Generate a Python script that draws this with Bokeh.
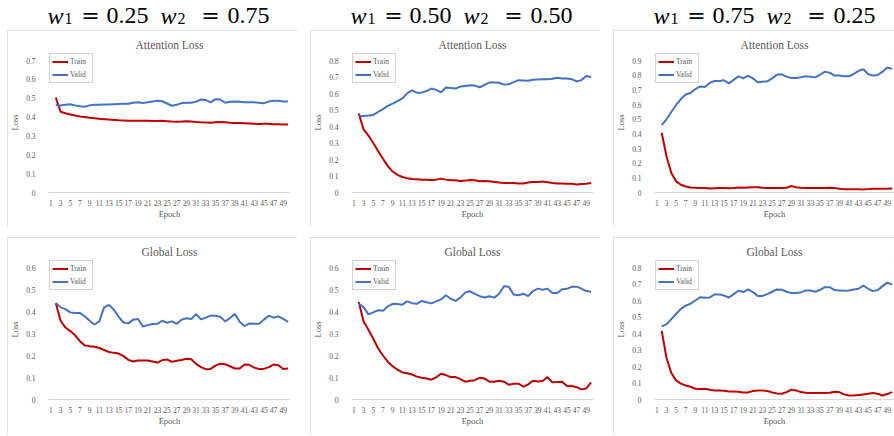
from bokeh.plotting import figure
from bokeh.layouts import row, column
from bokeh.models import Spacer, Range1d, FixedTicker
from bokeh.core.properties import value
from bokeh.embed import file_html
from bokeh.resources import INLINE

# ---------------- data ----------------
epochs = list(range(2, 51))
x_tick_values = list(range(1, 50, 2))

w1_values = ["0.25", "0.50", "0.75"]
w2_values = ["0.75", "0.50", "0.25"]

panel_titles = ["Attention Loss", "Global Loss"]
series_names = ["Train", "Valid"]

y_ticks_att_025 = [0, 0.1, 0.2, 0.3, 0.4, 0.5, 0.6, 0.7]
y_ticks_att_050 = [0, 0.1, 0.2, 0.3, 0.4, 0.5, 0.6, 0.7, 0.8]
y_ticks_att_075 = [0, 0.1, 0.2, 0.3, 0.4, 0.5, 0.6, 0.7, 0.8, 0.9]
y_ticks_glob_025 = [0, 0.1, 0.2, 0.3, 0.4, 0.5, 0.6]
y_ticks_glob_050 = [0, 0.1, 0.2, 0.3, 0.4, 0.5, 0.6]
y_ticks_glob_075 = [0, 0.1, 0.2, 0.3, 0.4, 0.5, 0.6, 0.7, 0.8]

att_train_025 = [0.504, 0.428, 0.420, 0.414, 0.408, 0.403, 0.400, 0.397, 0.394, 0.391,
                 0.389, 0.387, 0.385, 0.383, 0.382, 0.381, 0.380, 0.380, 0.380, 0.380,
                 0.379, 0.379, 0.380, 0.378, 0.376, 0.375, 0.376, 0.378, 0.377, 0.374,
                 0.372, 0.371, 0.370, 0.373, 0.374, 0.372, 0.370, 0.369, 0.368, 0.367,
                 0.366, 0.364, 0.363, 0.364, 0.364, 0.362, 0.362, 0.361, 0.360]
att_valid_025 = [0.464, 0.461, 0.465, 0.468, 0.462, 0.457, 0.455, 0.462, 0.465, 0.465,
                 0.467, 0.467, 0.468, 0.469, 0.470, 0.471, 0.476, 0.478, 0.474, 0.478,
                 0.482, 0.486, 0.484, 0.472, 0.460, 0.465, 0.474, 0.476, 0.476, 0.482,
                 0.493, 0.490, 0.478, 0.495, 0.493, 0.476, 0.481, 0.482, 0.481, 0.479,
                 0.478, 0.479, 0.476, 0.473, 0.482, 0.486, 0.486, 0.483, 0.482]

att_train_050 = [0.478, 0.382, 0.345, 0.300, 0.252, 0.205, 0.160, 0.127, 0.107, 0.094,
                 0.086, 0.082, 0.080, 0.078, 0.078, 0.076, 0.078, 0.084, 0.078, 0.074,
                 0.074, 0.070, 0.072, 0.076, 0.074, 0.068, 0.070, 0.068, 0.064, 0.060,
                 0.057, 0.057, 0.057, 0.055, 0.055, 0.060, 0.064, 0.064, 0.066, 0.062,
                 0.057, 0.055, 0.055, 0.053, 0.053, 0.049, 0.051, 0.053, 0.057]
att_valid_050 = [0.462, 0.464, 0.466, 0.470, 0.488, 0.505, 0.525, 0.539, 0.554, 0.570,
                 0.601, 0.619, 0.605, 0.605, 0.615, 0.630, 0.622, 0.607, 0.636, 0.634,
                 0.630, 0.642, 0.646, 0.650, 0.648, 0.638, 0.652, 0.667, 0.667, 0.665,
                 0.654, 0.656, 0.669, 0.681, 0.679, 0.677, 0.683, 0.685, 0.687, 0.687,
                 0.689, 0.695, 0.691, 0.691, 0.687, 0.673, 0.681, 0.706, 0.700]

att_train_075 = [0.407, 0.247, 0.133, 0.076, 0.053, 0.041, 0.034, 0.032, 0.030, 0.030,
                 0.028, 0.029, 0.030, 0.030, 0.029, 0.030, 0.034, 0.032, 0.034, 0.036,
                 0.036, 0.032, 0.030, 0.030, 0.030, 0.030, 0.032, 0.044, 0.036, 0.032,
                 0.030, 0.030, 0.030, 0.030, 0.031, 0.032, 0.030, 0.025, 0.023, 0.023,
                 0.023, 0.023, 0.021, 0.023, 0.025, 0.025, 0.025, 0.025, 0.027]
att_valid_075 = [0.460, 0.499, 0.549, 0.597, 0.637, 0.668, 0.678, 0.705, 0.723, 0.719,
                 0.747, 0.760, 0.760, 0.765, 0.744, 0.769, 0.792, 0.778, 0.797, 0.778,
                 0.751, 0.755, 0.758, 0.778, 0.803, 0.806, 0.790, 0.781, 0.781, 0.785,
                 0.792, 0.790, 0.785, 0.803, 0.824, 0.817, 0.797, 0.797, 0.792, 0.792,
                 0.808, 0.829, 0.840, 0.808, 0.797, 0.801, 0.824, 0.852, 0.843]

glob_train_025 = [0.439, 0.358, 0.327, 0.311, 0.292, 0.265, 0.246, 0.242, 0.240, 0.234,
                  0.225, 0.216, 0.212, 0.209, 0.197, 0.180, 0.173, 0.177, 0.177, 0.177,
                  0.173, 0.168, 0.179, 0.182, 0.171, 0.176, 0.180, 0.185, 0.183, 0.162,
                  0.147, 0.138, 0.139, 0.154, 0.163, 0.160, 0.151, 0.141, 0.141, 0.159,
                  0.158, 0.145, 0.139, 0.139, 0.147, 0.159, 0.156, 0.139, 0.141]
glob_valid_025 = [0.439, 0.419, 0.411, 0.396, 0.393, 0.393, 0.378, 0.358, 0.341, 0.355,
                  0.419, 0.430, 0.408, 0.376, 0.350, 0.346, 0.363, 0.366, 0.332, 0.338,
                  0.343, 0.344, 0.358, 0.349, 0.355, 0.344, 0.363, 0.369, 0.366, 0.388,
                  0.364, 0.372, 0.381, 0.381, 0.376, 0.355, 0.370, 0.389, 0.353, 0.334,
                  0.346, 0.344, 0.344, 0.363, 0.381, 0.372, 0.378, 0.366, 0.353]

glob_train_050 = [0.443, 0.355, 0.317, 0.276, 0.233, 0.200, 0.172, 0.151, 0.136, 0.123,
                  0.119, 0.114, 0.104, 0.099, 0.095, 0.090, 0.101, 0.117, 0.111, 0.102,
                  0.102, 0.093, 0.081, 0.085, 0.088, 0.099, 0.095, 0.081, 0.081, 0.085,
                  0.081, 0.067, 0.072, 0.072, 0.058, 0.069, 0.085, 0.082, 0.084, 0.102,
                  0.078, 0.079, 0.081, 0.061, 0.062, 0.056, 0.046, 0.050, 0.078]
glob_valid_050 = [0.435, 0.420, 0.387, 0.396, 0.406, 0.403, 0.423, 0.435, 0.434, 0.431,
                  0.446, 0.438, 0.435, 0.448, 0.442, 0.437, 0.446, 0.455, 0.474, 0.458,
                  0.448, 0.463, 0.486, 0.492, 0.480, 0.470, 0.464, 0.469, 0.463, 0.481,
                  0.515, 0.512, 0.477, 0.474, 0.481, 0.470, 0.493, 0.504, 0.499, 0.504,
                  0.484, 0.484, 0.501, 0.503, 0.512, 0.513, 0.504, 0.493, 0.490]

glob_train_075 = [0.416, 0.253, 0.161, 0.116, 0.096, 0.085, 0.077, 0.065, 0.063, 0.065,
                  0.059, 0.055, 0.055, 0.053, 0.049, 0.049, 0.047, 0.043, 0.043, 0.051,
                  0.055, 0.055, 0.051, 0.043, 0.037, 0.035, 0.045, 0.059, 0.055, 0.045,
                  0.041, 0.039, 0.039, 0.039, 0.039, 0.041, 0.047, 0.045, 0.031, 0.024,
                  0.024, 0.027, 0.031, 0.035, 0.039, 0.035, 0.024, 0.033, 0.045]
glob_valid_075 = [0.443, 0.455, 0.487, 0.518, 0.549, 0.569, 0.580, 0.600, 0.620, 0.616,
                  0.618, 0.637, 0.637, 0.630, 0.618, 0.639, 0.659, 0.651, 0.667, 0.651,
                  0.628, 0.628, 0.639, 0.653, 0.667, 0.665, 0.653, 0.645, 0.645, 0.649,
                  0.661, 0.661, 0.653, 0.665, 0.681, 0.681, 0.663, 0.661, 0.659, 0.661,
                  0.667, 0.671, 0.691, 0.671, 0.657, 0.663, 0.687, 0.708, 0.696]

# ---------------- style ----------------
RED = "#C00000"
BLUE = "#4472C4"
GRAY_TEXT = "#595959"
FONT = "Liberation Serif"
LEFT_PAD = 7
PANEL_WIDTHS = [290, 290, 281]
BORDER_RIGHTS = [7, 7, 0]
PH = 197
HDR_H = 30
GAP_V = 10
GAP_H = 13
FRAME_TOP, FRAME_BOTTOM = 22, 35
BORDER_LEFT = 35
TOP_PAD_PX = 8


def make_panel(title, train, valid, ticks, pw, border_right):
    frame_h = PH - FRAME_TOP - FRAME_BOTTOM
    y_end = ticks[-1] * frame_h / (frame_h - TOP_PAD_PX)
    p = figure(width=pw, height=PH, output_backend="svg", toolbar_location=None,
               x_range=Range1d(0.5, 50.5), y_range=Range1d(0, y_end),
               min_border_left=BORDER_LEFT, min_border_right=border_right,
               min_border_top=FRAME_TOP, min_border_bottom=FRAME_BOTTOM,
               title=title)
    p.frame_align = False
    p.styles = {"outline": "1px solid #d9d9d9", "outline-offset": "-1px"}
    p.outline_line_color = None
    p.background_fill_color = "white"
    p.border_fill_color = "white"
    p.xgrid.visible = False
    p.ygrid.visible = False

    p.title.align = "center"
    p.title.text_font = FONT
    p.title.text_font_size = "11.5px"
    p.title.text_font_style = "normal"
    p.title.text_color = GRAY_TEXT
    p.title.standoff = 3
    p.title.offset = -12

    p.line(epochs, train, color=RED, line_width=2, legend_label=series_names[0])
    p.line(epochs, valid, color=BLUE, line_width=2, legend_label=series_names[1])

    xa = p.xaxis[0]
    xa.ticker = FixedTicker(ticks=x_tick_values)
    xa.axis_line_color = "#d9d9d9"
    xa.axis_line_width = 1
    xa.major_tick_line_color = None
    xa.minor_tick_line_color = None
    xa.major_label_text_font = FONT
    xa.major_label_text_font_size = "7.5px"
    xa.major_label_text_color = GRAY_TEXT
    xa.major_label_standoff = 1
    xa.axis_label = "Epoch"
    xa.axis_label_text_font = FONT
    xa.axis_label_text_font_size = "8.5px"
    xa.axis_label_text_font_style = "normal"
    xa.axis_label_text_color = GRAY_TEXT
    xa.axis_label_standoff = 0

    ya = p.yaxis[0]
    ya.ticker = FixedTicker(ticks=ticks)
    ya.major_label_overrides = {0: "0"}
    ya.axis_line_color = None
    ya.major_tick_line_color = None
    ya.minor_tick_line_color = None
    ya.major_label_text_font = FONT
    ya.major_label_text_font_size = "7.5px"
    ya.major_label_text_color = GRAY_TEXT
    ya.major_label_standoff = 7
    ya.axis_label = "Loss"
    ya.axis_label_text_font = FONT
    ya.axis_label_text_font_size = "8.5px"
    ya.axis_label_text_font_style = "normal"
    ya.axis_label_text_color = GRAY_TEXT
    ya.axis_label_standoff = 3

    lg = p.legend[0]
    lg.location = "top_left"
    lg.margin = 1
    lg.padding = 2
    lg.spacing = 2
    lg.glyph_width = 16
    lg.glyph_height = 11
    lg.label_height = 11
    lg.label_standoff = 2
    lg.label_text_font = FONT
    lg.label_text_font_size = "7.5px"
    lg.label_text_color = GRAY_TEXT
    lg.border_line_color = "#a6a6a6"
    lg.border_line_width = 1
    lg.background_fill_color = "white"
    lg.background_fill_alpha = 1.0
    return p


def make_header(w1, w2, pw):
    half = 145
    h = figure(width=pw, height=HDR_H, output_backend="svg", toolbar_location=None,
               x_range=Range1d(-half, pw - half), y_range=Range1d(0, HDR_H),
               x_axis_type=None, y_axis_type=None, title=None,
               min_border=0, min_border_left=0, min_border_right=0,
               min_border_top=0, min_border_bottom=0)
    h.frame_align = False
    h.xgrid.visible = False
    h.ygrid.visible = False
    h.outline_line_color = None
    h.background_fill_color = "white"
    h.border_fill_color = "white"
    base = 15
    common = dict(text_color="black", text_baseline="alphabetic")
    # italic w's
    h.text(x=[-105, 8], y=[base, base], text=["w", "w"], text_font=value(FONT),
           text_font_style="italic", text_font_size="24px", text_align="left", **common)
    # subscripts
    h.text(x=[-88, 25], y=[base - 2.5, base - 2.5], text=["1", "2"], text_font=value(FONT),
           text_font_size="16px", text_align="left", **common)
    # equals signs
    h.text(x=[-62, 58], y=[base, base], text=["=", "="], text_font=value("DejaVu Serif"),
           text_font_size="22px", text_align="center", **common)
    # numbers
    h.text(x=[-46, 75], y=[base, base], text=[w1, w2], text_font=value(FONT),
           text_font_size="24px", text_align="left", **common)
    return h


att_train = [att_train_025, att_train_050, att_train_075]
att_valid = [att_valid_025, att_valid_050, att_valid_075]
glob_train = [glob_train_025, glob_train_050, glob_train_075]
glob_valid = [glob_valid_025, glob_valid_050, glob_valid_075]
att_ticks = [y_ticks_att_025, y_ticks_att_050, y_ticks_att_075]
glob_ticks = [y_ticks_glob_025, y_ticks_glob_050, y_ticks_glob_075]

children = [Spacer(width=LEFT_PAD, height=10)]
for j in range(3):
    pw = PANEL_WIDTHS[j]
    br = BORDER_RIGHTS[j]
    hdr = make_header(w1_values[j], w2_values[j], pw)
    p_top = make_panel(panel_titles[0], att_train[j], att_valid[j], att_ticks[j], pw, br)
    p_bot = make_panel(panel_titles[1], glob_train[j], glob_valid[j], glob_ticks[j], pw, br)
    children.append(column(hdr, p_top, Spacer(width=pw, height=GAP_V), p_bot, spacing=0))
    if j < 2:
        children.append(Spacer(width=GAP_H, height=10))

layout = row(*children, spacing=0)

open("out.html", "w").write(file_html(layout, INLINE))
